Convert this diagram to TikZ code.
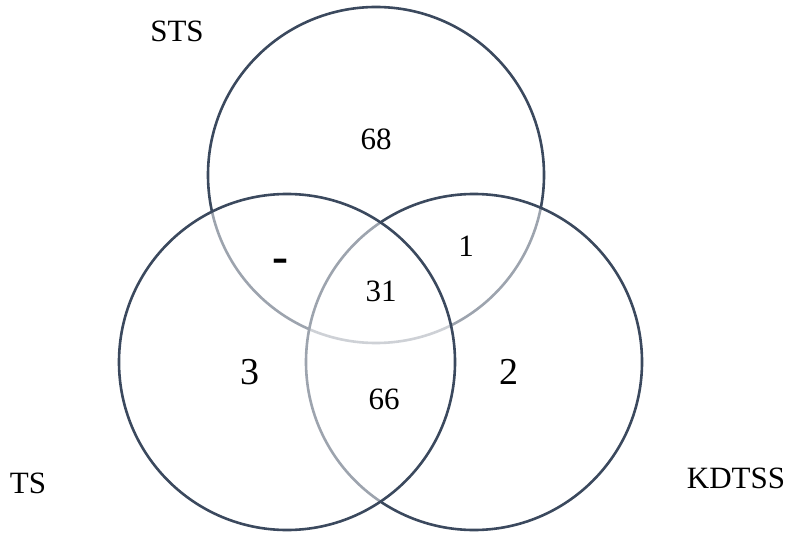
\documentclass[tikz,border=0pt]{standalone}
\usepackage{fontspec}
\setmainfont{Liberation Serif}
\definecolor{ringcol}{RGB}{59,73,94}
\begin{document}
\begin{tikzpicture}[x=1bp,y=-1bp,
  ring/.style={circle, draw=ringcol, line width=2.6bp, fill=white,
    fill opacity=0.5, draw opacity=1, minimum size=336bp, inner sep=0pt},
  setname/.style={font=\fontsize{31bp}{36bp}\selectfont, inner sep=0pt},
  count/.style={font=\fontsize{31bp}{36bp}\selectfont, inner sep=0pt},
  bigcount/.style={font=\fontsize{38bp}{44bp}\selectfont, inner sep=0pt}]
\useasboundingbox (0,0) rectangle (788,534);

% three sets: STS at the bottom, then KDTSS, then TS on top
\node[ring] (sts)   at (376,175) {};
\node[ring] (kdtss) at (474,362) {};
\node[ring] (ts)    at (287,362) {};

% set names
\node[setname] (nsts)   at (177,31)  {STS};
\node[setname] (nts)    at (28,483)  {TS};
\node[setname] (nkdtss) at (736,478) {KDTSS};

% region counts
\node[count]    (c68) at (376,139) {68};
\node[count, font=\fontsize{48bp}{52bp}\selectfont\bfseries] (cstsTs) at (280,266) {-};
\node[count]    (c1)  at (466,246) {1};
\node[count]    (c31) at (381,291) {31};
\node[bigcount] (c3)  at (250,372) {3};
\node[count]    (c66) at (384,399) {66};
\node[bigcount] (c2)  at (509,372) {2};
\end{tikzpicture}
\end{document}
